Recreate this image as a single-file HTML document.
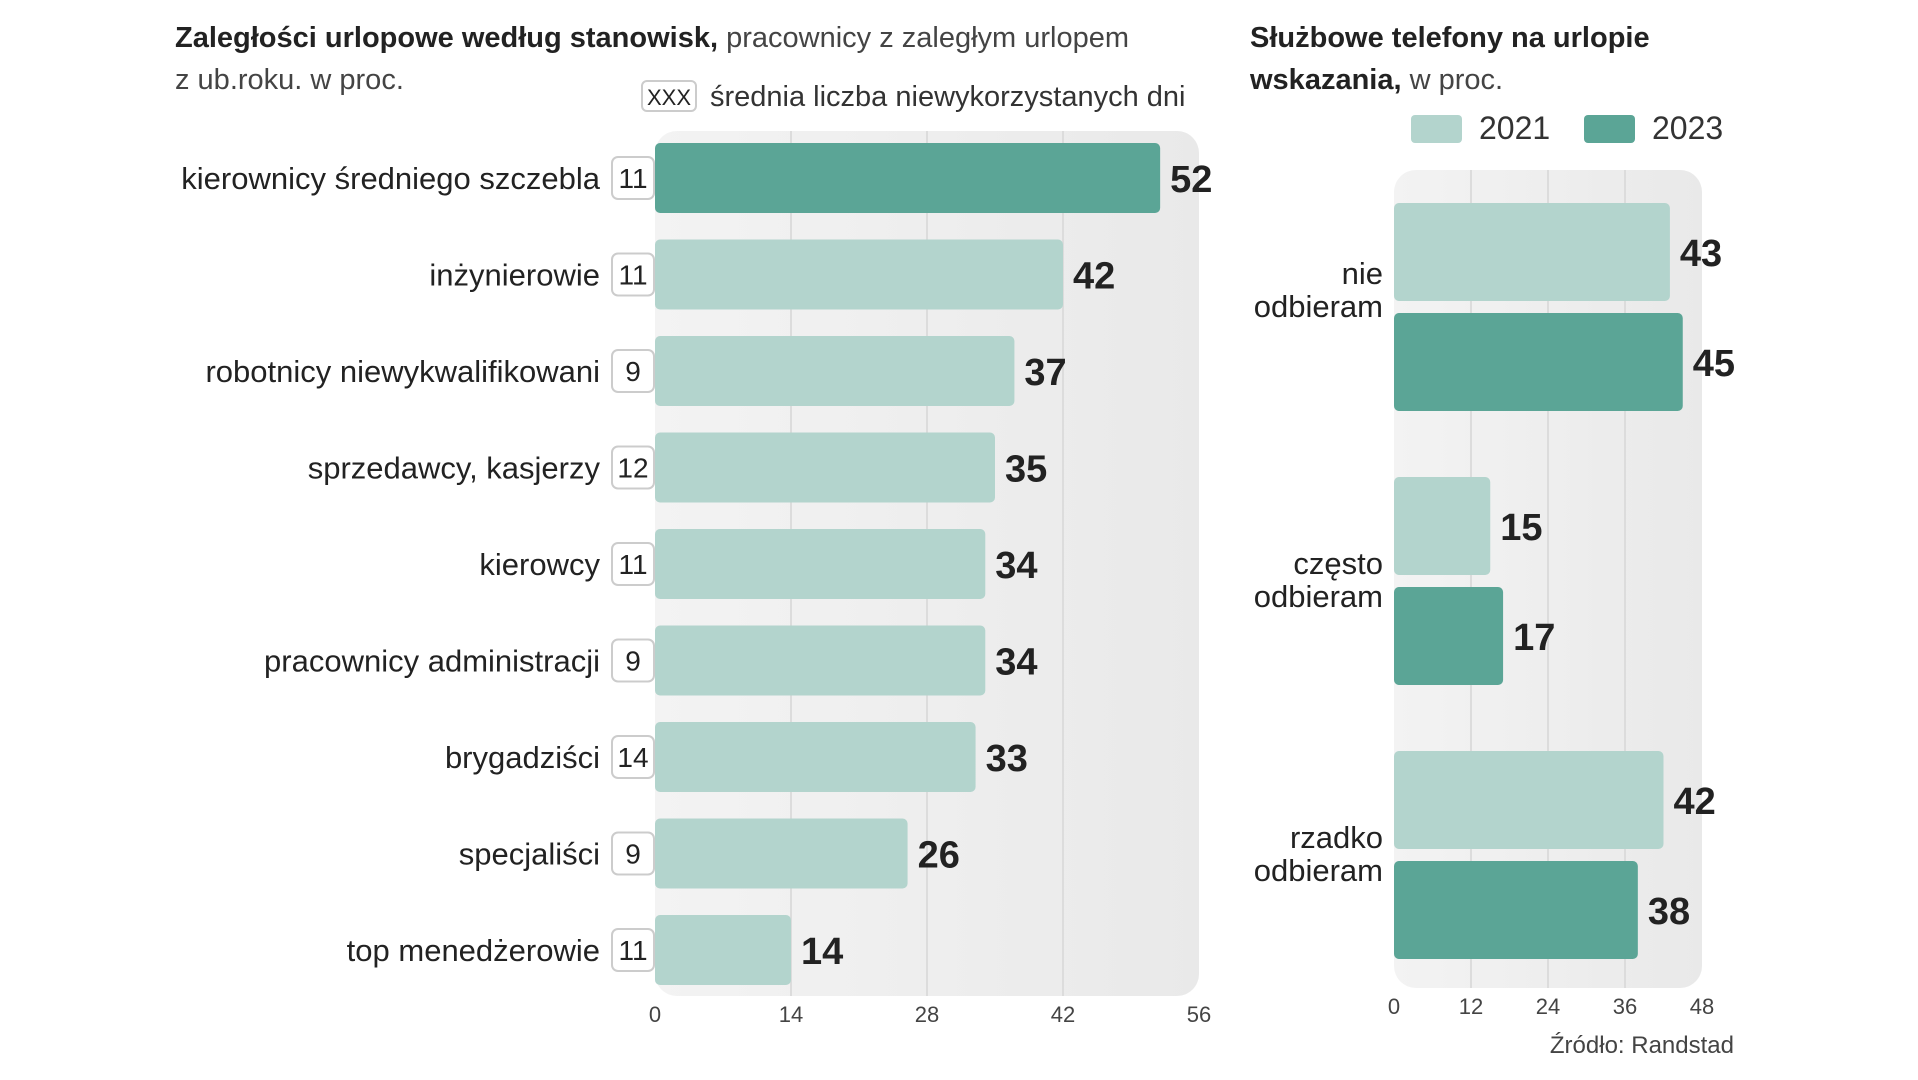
<!DOCTYPE html>
<html><head><meta charset="utf-8">
<style>
html,body{margin:0;padding:0;background:#fff;}
svg{display:block;}
text{font-family:"Liberation Sans Narrow","Liberation Sans",sans-serif;fill:#222;}
.val{font-weight:bold;font-size:38px;}
.lab{font-size:31px;}
.tick{font-size:22px;fill:#444;}
</style></head>
<body>
<svg id="c" width="1918" height="1080" viewBox="0 0 1918 1080" xmlns="http://www.w3.org/2000/svg">
<defs>
<linearGradient id="pg" x1="0" y1="0" x2="1" y2="0"><stop offset="0" stop-color="#f3f3f3"/><stop offset="1" stop-color="#e9e9e9"/></linearGradient>
</defs>
<text x="175" y="47" style="font-size:29px"><tspan font-weight="bold">Zaległości urlopowe według stanowisk,</tspan><tspan fill="#444"> pracownicy z zaległym urlopem</tspan></text>
<text x="175" y="89" style="font-size:29px;fill:#444">z ub.roku. w proc.</text>
<rect x="642" y="81" width="54" height="30" rx="5" fill="#fff" stroke="#ccc" stroke-width="2"/>
<text x="669" y="105" text-anchor="middle" style="font-size:22px">XXX</text>
<text x="710" y="106" style="font-size:29px;fill:#333">średnia liczba niewykorzystanych dni</text>

<text x="1250" y="47" style="font-size:29px;font-weight:bold">Służbowe telefony na urlopie</text>
<text x="1250" y="89" style="font-size:29px"><tspan font-weight="bold">wskazania,</tspan><tspan fill="#444"> w proc.</tspan></text>
<rect x="1411" y="115" width="51" height="28" rx="4" fill="#b3d4cd"/>
<text x="1479" y="139" style="font-size:32px;font-family:'Liberation Sans',sans-serif;fill:#333">2021</text>
<rect x="1584" y="115" width="51" height="28" rx="4" fill="#5ba596"/>
<text x="1652" y="139" style="font-size:32px;font-family:'Liberation Sans',sans-serif;fill:#333">2023</text>
<text x="1734" y="1053" text-anchor="end" style="font-size:24px;fill:#444">Źródło: Randstad</text>
<g id="L"></g><g id="R"></g>
</svg>
<script>
const catsL=["kierownicy średniego szczebla","inżynierowie","robotnicy niewykwalifikowani","sprzedawcy, kasjerzy","kierowcy","pracownicy administracji","brygadziści","specjaliści","top menedżerowie"];
const valsL=[52,42,37,35,34,34,33,26,14];
const daysL=[11,11,9,12,11,9,14,9,11];
const ticksL=[0,14,28,42,56];
const catsR=[["nie","odbieram"],["często","odbieram"],["rzadko","odbieram"]];
const vals2021=[43,15,42];
const vals2023=[45,17,38];
const ticksR=[0,12,24,36,48];

const NS="http://www.w3.org/2000/svg";
function mk(p,t,a,txt){const e=document.createElementNS(NS,t);for(const k in a)e.setAttribute(k,a[k]);if(txt!==undefined)e.textContent=txt;p.appendChild(e);return e;}

// Left chart
const L=document.getElementById('L');
const lx0=655,lx1=1199,ly0=131,ly1=996;
const xL=v=>lx0+(v-0)/(56-0)*(lx1-lx0);
const yL=i=>143+i*96.5;
let e=mk(L,'rect',{x:lx0,y:ly0,width:lx1-lx0,height:ly1-ly0,rx:22,fill:'url(#pg)'});


ticksL.forEach((t,i)=>{
  if(i>0&&i<ticksL.length-1){e=mk(L,'line',{x1:xL(t),x2:xL(t),y1:ly0,y2:ly1,stroke:'#dcdcdc','stroke-width':2});
  
  }
  e=mk(L,'text',{x:xL(t),y:1022,'text-anchor':'middle',class:'tick'},t);
  
  
});
catsL.forEach((c,i)=>{
  const y=yL(i),h=70,cy=y+h/2;
  e=mk(L,'rect',{x:xL(0),y:y,width:xL(valsL[i])-xL(0),height:h,rx:5,fill:i===0?'#5ba596':'#b3d4cd'});
  
  
  e=mk(L,'text',{x:xL(valsL[i])+10,y:cy+14,class:'val'},valsL[i]);
  
  
  e=mk(L,'rect',{x:612,y:cy-21,width:42,height:42,rx:6,fill:'#fff',stroke:'#ccc','stroke-width':2});
  
  
  e=mk(L,'text',{x:633,y:cy+10,'text-anchor':'middle',style:'font-size:28px'},daysL[i]);
  
  
  e=mk(L,'text',{x:600,y:cy+11,'text-anchor':'end',class:'lab'},c);
  
  
});

// Right chart
const R=document.getElementById('R');
const rx0=1394,rx1=1702,ry0=170,ry1=988;
const xR=v=>rx0+(v-0)/(48-0)*(rx1-rx0);
const gy=i=>203+i*274;
e=mk(R,'rect',{x:rx0,y:ry0,width:rx1-rx0,height:ry1-ry0,rx:22,fill:'url(#pg)'});


ticksR.forEach((t,i)=>{
  if(i>0&&i<ticksR.length-1){e=mk(R,'line',{x1:xR(t),x2:xR(t),y1:ry0,y2:ry1,stroke:'#dcdcdc','stroke-width':2});
  
  }
  e=mk(R,'text',{x:xR(t),y:1014,'text-anchor':'middle',class:'tick'},t);
  
  
});
catsR.forEach((c,i)=>{
  const y=gy(i),h=98;
  const off=i===0?0:16;
  e=mk(R,'rect',{x:xR(0),y:y,width:xR(vals2021[i])-xR(0),height:h,rx:5,fill:'#b3d4cd'});
  
  
  e=mk(R,'text',{x:xR(vals2021[i])+10,y:y+h/2+14,class:'val'},vals2021[i]);
  
  
  e=mk(R,'rect',{x:xR(0),y:y+110,width:xR(vals2023[i])-xR(0),height:h,rx:5,fill:'#5ba596'});
  
  
  e=mk(R,'text',{x:xR(vals2023[i])+10,y:y+110+h/2+14,class:'val'},vals2023[i]);
  
  
  e=mk(R,'text',{x:1383,y:y+81+off,'text-anchor':'end',class:'lab'},c[0]);
  
  
  e=mk(R,'text',{x:1383,y:y+114+off,'text-anchor':'end',class:'lab'},c[1]);
  
  
});
</script>
</body></html>
